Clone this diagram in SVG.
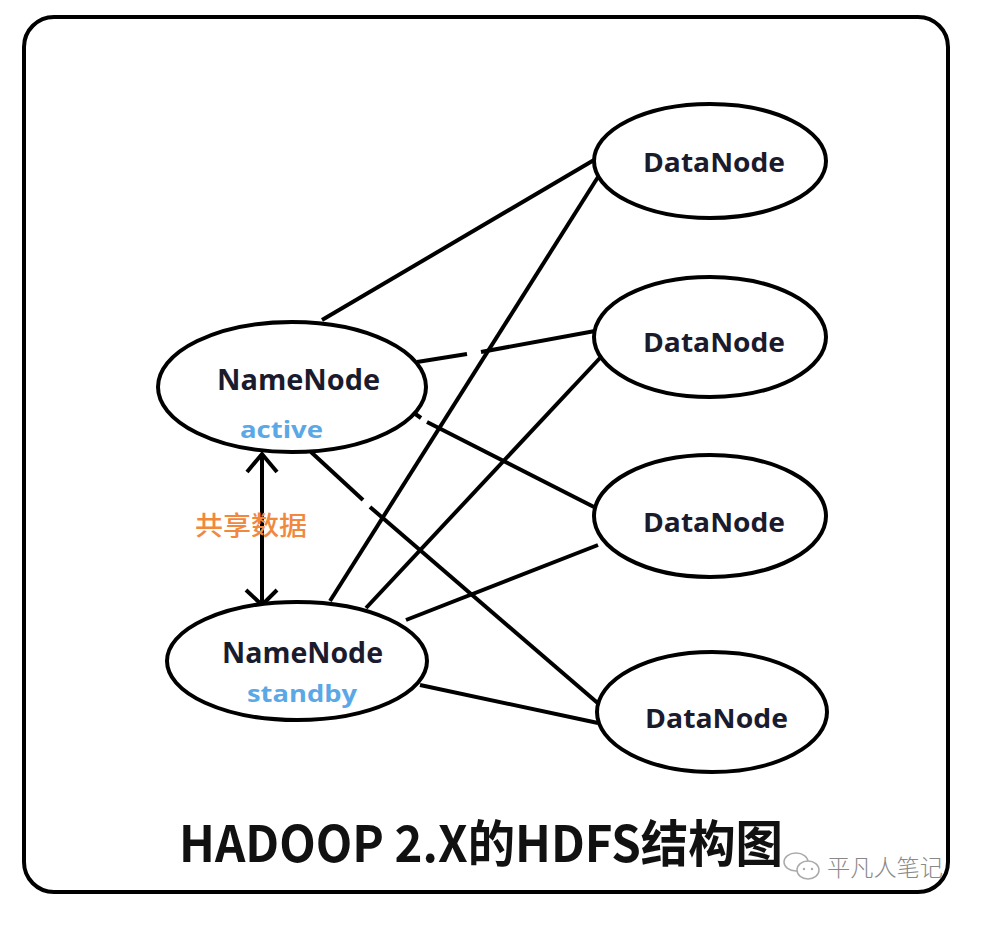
<svg xmlns="http://www.w3.org/2000/svg" width="997" height="925" viewBox="0 0 997 925">
<style>
.node{fill:#fff;stroke:#000;stroke-width:4}
.lbl{font-family:"Open Sans","Noto Sans",sans-serif;font-weight:700;fill:#1b1b2e}
.sub{font-family:"Open Sans","Noto Sans",sans-serif;font-weight:700;fill:#5aa8e6;font-size:24px}
.ln{stroke:#000;stroke-width:4;fill:none;stroke-linecap:butt}
</style>
<rect width="997" height="925" fill="#fff"/>
<rect x="24" y="17" width="924" height="875" rx="30" ry="30" fill="none" stroke="#000" stroke-width="4"/>

<g id="connectors">
<line class="ln" x1="322" y1="320" x2="594" y2="160"/>
<line class="ln" x1="417" y1="362" x2="467" y2="354"/>
<line class="ln" x1="481" y1="352" x2="595" y2="331"/>
<line class="ln" x1="414" y1="413" x2="421" y2="418"/>
<line class="ln" x1="427" y1="422" x2="594" y2="507"/>
<line class="ln" x1="311" y1="452" x2="363" y2="500"/>
<line class="ln" x1="370" y1="507" x2="600" y2="705"/>
<line class="ln" x1="330" y1="601" x2="598" y2="177"/>
<line class="ln" x1="366" y1="608" x2="600" y2="358"/>
<line class="ln" x1="406" y1="620" x2="598" y2="545"/>
<line class="ln" x1="420" y1="685" x2="598" y2="723"/>
<line class="ln" x1="262" y1="454" x2="262" y2="604"/>
<polyline class="ln" points="247,472 262,454 277,472"/>
<polyline class="ln" points="246,590 262,605 277,590"/>
</g>

<g id="nn-active">
<ellipse class="node" cx="292" cy="387" rx="134" ry="65"/>
<text class="lbl" x="217" y="390" font-size="28" textLength="163" lengthAdjust="spacingAndGlyphs">NameNode</text>
<text class="sub" x="240" y="438" textLength="83" lengthAdjust="spacingAndGlyphs">active</text>
</g>

<g id="nn-standby">
<ellipse class="node" cx="297" cy="661" rx="130" ry="59"/>
<text class="lbl" x="222" y="663" font-size="28" textLength="161" lengthAdjust="spacingAndGlyphs">NameNode</text>
<text class="sub" x="247" y="702" textLength="110" lengthAdjust="spacingAndGlyphs">standby</text>
</g>

<g id="dn1">
<ellipse class="node" cx="710" cy="161" rx="116" ry="57"/>
<text class="lbl" x="643" y="172" font-size="27" textLength="142" lengthAdjust="spacingAndGlyphs">DataNode</text>
</g>
<g id="dn2">
<ellipse class="node" cx="710" cy="337" rx="116" ry="60"/>
<text class="lbl" x="643" y="352" font-size="27" textLength="142" lengthAdjust="spacingAndGlyphs">DataNode</text>
</g>
<g id="dn3">
<ellipse class="node" cx="710" cy="516" rx="116" ry="61"/>
<text class="lbl" x="643" y="532" font-size="27" textLength="142" lengthAdjust="spacingAndGlyphs">DataNode</text>
</g>
<g id="dn4">
<ellipse class="node" cx="712" cy="712" rx="115" ry="60"/>
<text class="lbl" x="645" y="728" font-size="27" textLength="143" lengthAdjust="spacingAndGlyphs">DataNode</text>
</g>

<text x="195" y="535" font-family="'Noto Sans CJK SC',sans-serif" font-weight="500" font-size="26" fill="#f0883e" textLength="112" lengthAdjust="spacingAndGlyphs">共享数据</text>

<text x="179" y="862" font-family="'Noto Sans CJK SC',sans-serif" font-weight="700" font-size="50" fill="#111" textLength="604" lengthAdjust="spacingAndGlyphs">HADOOP 2.X的HDFS结构图</text>

<g id="watermark" fill="none" stroke="#aaa" stroke-width="1.5">
<ellipse cx="796" cy="862" rx="12" ry="9"/>
<ellipse cx="808" cy="870" rx="11" ry="9" fill="#fff"/>
<circle cx="804" cy="869" r="1.2" fill="#aaa" stroke="none"/>
<circle cx="812" cy="869" r="1.2" fill="#aaa" stroke="none"/>
</g>
<text x="827" y="876" font-family="'Noto Sans CJK SC',sans-serif" font-weight="300" font-size="23" fill="#888" textLength="116" lengthAdjust="spacingAndGlyphs">平凡人笔记</text>
</svg>
